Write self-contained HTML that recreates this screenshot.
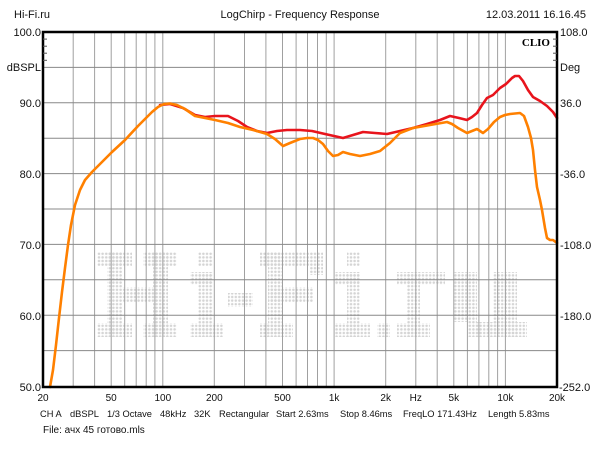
<!DOCTYPE html>
<html><head><meta charset="utf-8"><style>
body{margin:0;background:#fff;}
svg{display:block;font-family:"Liberation Sans",sans-serif;}
</style></head><body>
<svg width="600" height="450" viewBox="0 0 600 450" xmlns="http://www.w3.org/2000/svg">
<defs>
<pattern id="dots" width="3.6" height="3.6" patternUnits="userSpaceOnUse">
<circle cx="1.8" cy="1.8" r="1.25" fill="#d4d4d4"/>
</pattern>
</defs>
<rect width="600" height="450" fill="#fff"/>
<g fill="url(#dots)">
<rect x="97" y="252" width="35" height="14"/><rect x="107" y="252" width="15" height="85"/><rect x="97" y="323" width="35" height="14"/>
<rect x="143" y="252" width="34" height="14"/><rect x="153" y="252" width="15" height="85"/><rect x="143" y="323" width="34" height="14"/>
<rect x="122" y="287" width="31" height="15"/>
<rect x="198" y="252" width="15" height="14"/><rect x="190" y="272" width="23" height="13"/><rect x="198" y="272" width="15" height="65"/><rect x="190" y="323" width="33" height="14"/>
<rect x="228" y="293" width="25" height="14"/>
<rect x="260" y="252" width="63" height="14"/><rect x="268" y="252" width="15" height="85"/><rect x="310" y="266" width="13" height="9"/><rect x="268" y="287" width="45" height="15"/><rect x="260" y="323" width="33" height="14"/>
<rect x="347" y="252" width="13" height="14"/><rect x="335" y="272" width="25" height="13"/><rect x="347" y="272" width="13" height="65"/><rect x="335" y="323" width="35" height="14"/>
<rect x="377" y="323" width="13" height="14"/>
<rect x="397" y="272" width="48" height="13"/><rect x="407" y="272" width="13" height="65"/><rect x="397" y="323" width="33" height="14"/>
<rect x="453" y="272" width="24" height="50"/><rect x="493" y="272" width="24" height="65"/><rect x="467" y="322" width="60" height="15"/>
</g>
<g stroke="#a0a0a0" stroke-width="1">
<line x1="73.2" y1="32" x2="73.2" y2="387"/><line x1="94.6" y1="32" x2="94.6" y2="387"/><line x1="111.2" y1="32" x2="111.2" y2="387"/><line x1="124.7" y1="32" x2="124.7" y2="387"/><line x1="136.2" y1="32" x2="136.2" y2="387"/><line x1="146.2" y1="32" x2="146.2" y2="387"/><line x1="154.9" y1="32" x2="154.9" y2="387"/><line x1="162.8" y1="32" x2="162.8" y2="387"/>
<line x1="214.3" y1="32" x2="214.3" y2="387"/><line x1="244.5" y1="32" x2="244.5" y2="387"/><line x1="265.9" y1="32" x2="265.9" y2="387"/><line x1="282.5" y1="32" x2="282.5" y2="387"/><line x1="296.1" y1="32" x2="296.1" y2="387"/><line x1="307.5" y1="32" x2="307.5" y2="387"/><line x1="317.5" y1="32" x2="317.5" y2="387"/><line x1="326.3" y1="32" x2="326.3" y2="387"/><line x1="334.1" y1="32" x2="334.1" y2="387"/>
<line x1="385.7" y1="32" x2="385.7" y2="387"/><line x1="415.8" y1="32" x2="415.8" y2="387"/><line x1="437.2" y1="32" x2="437.2" y2="387"/><line x1="453.8" y1="32" x2="453.8" y2="387"/><line x1="467.4" y1="32" x2="467.4" y2="387"/><line x1="478.9" y1="32" x2="478.9" y2="387"/><line x1="488.8" y1="32" x2="488.8" y2="387"/><line x1="497.6" y1="32" x2="497.6" y2="387"/><line x1="505.4" y1="32" x2="505.4" y2="387"/>
</g>
<g stroke="#888" stroke-width="1">
<line x1="43" y1="67.4" x2="557" y2="67.4"/><line x1="43" y1="102.8" x2="557" y2="102.8"/><line x1="43" y1="138.2" x2="557" y2="138.2"/><line x1="43" y1="173.6" x2="557" y2="173.6"/><line x1="43" y1="209" x2="557" y2="209"/><line x1="43" y1="244.4" x2="557" y2="244.4"/><line x1="43" y1="279.8" x2="557" y2="279.8"/><line x1="43" y1="315.2" x2="557" y2="315.2"/><line x1="43" y1="350.6" x2="557" y2="350.6"/>
</g>
<polyline fill="none" stroke="#e8141c" stroke-width="2.6" stroke-linejoin="round" stroke-linecap="round" points="160,105 170,104 183,108 195,115 205,117 215,116 228,116 238,121 247,127 257,131 267,133 277,131 287,130 300,130 312,131 325,134 343,138 353,135 363,132 375,133 387,134 400,131 413,128 427,124 440,120 450,116 459,118 467,120 472,117 477,113 482,105 487,98 493,95 500,88 506,84 512,78 515,76 519,76 523,81 528,90 533,97 540,101 547,106 553,112 557,118"/>
<polyline fill="none" stroke="#ff8000" stroke-width="2.6" stroke-linejoin="round" stroke-linecap="round" points="50,387 53,370 56,345 59,318 62,292 65,268 68,245 71,225 75,205 80,190 85,180 92,172 100,164 112,152 125,140 138,126 146,118 152,112 158,107 164,104 170,103.5 177,105 185,109 195,116 205,118 215,120 228,123 240,127 253,130 267,134 275,139 283,146 290,143 300,139 307,138 313,138 318,140 323,144 328,151 333,156 338,155 343,152 350,154 360,156 370,154 380,151 390,143 400,133 413,128 430,125 447,122 452,124 458,128 467,133 472,131 477,129 483,133 488,129 494,122 500,117 505,115 510,114 520,113 524,116 528,127 531,138 533,150 535,170 537,187 540,200 542,210 545,228 547,238 550,240 553,240 557,243"/>
<rect x="43" y="32" width="514" height="355" fill="none" stroke="#000" stroke-width="2.5"/>
<g stroke="#555" stroke-width="1">
<line x1="43" y1="39.1" x2="47" y2="39.1"/><line x1="43" y1="46.2" x2="47" y2="46.2"/><line x1="43" y1="53.2" x2="47" y2="53.2"/><line x1="43" y1="60.3" x2="47" y2="60.3"/>
<line x1="553" y1="39.1" x2="557" y2="39.1"/><line x1="553" y1="46.2" x2="557" y2="46.2"/><line x1="553" y1="53.2" x2="557" y2="53.2"/><line x1="553" y1="60.3" x2="557" y2="60.3"/>
</g>
<g font-size="11" fill="#111">
<text x="14" y="18">Hi-Fi.ru</text>
<text x="300" y="18" text-anchor="middle">LogChirp - Frequency Response</text>
<text x="586" y="18" text-anchor="end">12.03.2011 16.16.45</text>
<text x="41" y="36" text-anchor="end">100.0</text>
<text x="41" y="71" text-anchor="end">dBSPL</text>
<text x="41" y="107" text-anchor="end">90.0</text>
<text x="41" y="178" text-anchor="end">80.0</text>
<text x="41" y="249" text-anchor="end">70.0</text>
<text x="41" y="320" text-anchor="end">60.0</text>
<text x="41" y="391" text-anchor="end">50.0</text>
<text x="560" y="36">108.0</text>
<text x="560" y="71">Deg</text>
<text x="560" y="107">36.0</text>
<text x="560" y="178">-36.0</text>
<text x="560" y="249">-108.0</text>
<text x="560" y="320">-180.0</text>
<text x="559" y="391">-252.0</text>
</g>
<g font-size="10" fill="#111">
<text x="43" y="401" text-anchor="middle">20</text>
<text x="111.2" y="401" text-anchor="middle">50</text>
<text x="162.8" y="401" text-anchor="middle">100</text>
<text x="214.3" y="401" text-anchor="middle">200</text>
<text x="282.5" y="401" text-anchor="middle">500</text>
<text x="334.1" y="401" text-anchor="middle">1k</text>
<text x="385.7" y="401" text-anchor="middle">2k</text>
<text x="415.8" y="401" text-anchor="middle">Hz</text>
<text x="453.8" y="401" text-anchor="middle">5k</text>
<text x="505.4" y="401" text-anchor="middle">10k</text>
<text x="557" y="401" text-anchor="middle">20k</text>
</g>
<g font-size="9.3" fill="#111">
<text x="40" y="417">CH A</text>
<text x="70" y="417">dBSPL</text>
<text x="107" y="417">1/3 Octave</text>
<text x="160" y="417">48kHz</text>
<text x="194" y="417">32K</text>
<text x="219" y="417">Rectangular</text>
<text x="276" y="417">Start 2.63ms</text>
<text x="340" y="417">Stop 8.46ms</text>
<text x="403" y="417">FreqLO 171.43Hz</text>
<text x="488" y="417">Length 5.83ms</text>
<text x="43" y="433" font-size="10">File: ачх 45 готово.mls</text>
</g>
<text x="550" y="46" text-anchor="end" font-family="Liberation Serif,serif" font-weight="bold" font-size="11">CLIO</text>
</svg>
</body></html>
